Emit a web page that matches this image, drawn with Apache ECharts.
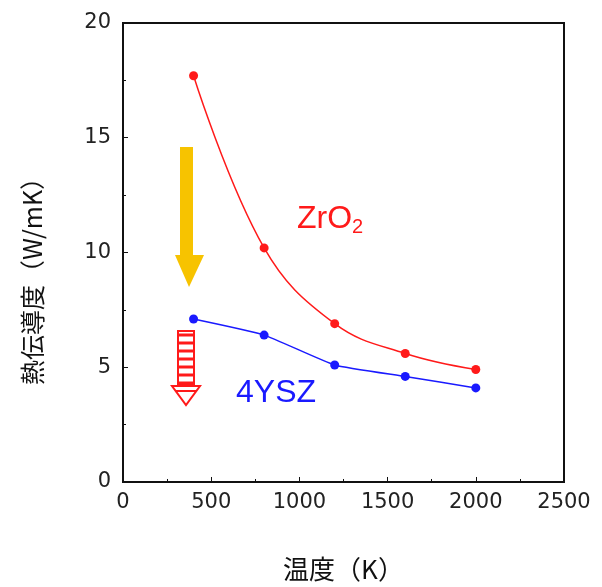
<!DOCTYPE html>
<html>
<head>
<meta charset="utf-8">
<script src="https://cdn.jsdelivr.net/npm/echarts@6/dist/echarts.min.js"></script>
<style>
  html, body { margin: 0; padding: 0; background: #fff; }
  #chart { width: 602px; height: 587px; }
</style>
</head>
<body>
<div id="chart"></div>
<script>
// temperature (K)
var temps = [400, 800, 1200, 1600, 2000];
// thermal conductivity (W/mK)
var zro2 = [17.7, 10.2, 6.9, 5.6, 4.9];
var ysz4 = [7.1, 6.4, 5.1, 4.6, 4.1];

var chart = echarts.init(document.getElementById('chart'));
var font = '"DejaVu Sans", sans-serif';
var lblFont = '"Liberation Sans", Arial, sans-serif';
var cjk = '"Noto Sans CJK JP", sans-serif';

var option = {
  animation: false,
  grid: {
    left: 123, right: 38, top: 23, bottom: 103,
    show: true, borderColor: '#111', borderWidth: 2
  },
  xAxis: {
    type: 'value', min: 0, max: 2500, interval: 500,
    name: '温度（K）', nameLocation: 'middle', nameGap: 74,
    nameTextStyle: { fontFamily: cjk, fontSize: 26, color: '#111' },
    axisLine: { lineStyle: { color: '#111', width: 2 } },
    axisTick: { inside: true, length: 5, lineStyle: { color: '#111' } },
    minorTick: { show: true, splitNumber: 2, length: 3, lineStyle: { color: '#111' } },
    splitLine: { show: false },
    axisLabel: { fontFamily: font, fontSize: 21, color: '#222', margin: 10,
      formatter: function (v) { return String(v); } }
  },
  yAxis: {
    type: 'value', min: 0, max: 20, interval: 5,
    axisLine: { lineStyle: { color: '#111', width: 2 } },
    axisTick: { inside: true, length: 5, lineStyle: { color: '#111' } },
    minorTick: { show: true, splitNumber: 2, length: 3, lineStyle: { color: '#111' } },
    splitLine: { show: false },
    axisLabel: { fontFamily: font, fontSize: 21, color: '#222', margin: 12 }
  },
  series: [
    {
      name: 'ZrO2', type: 'line', smooth: 0.4,
      data: temps.map(function (t, i) { return [t, zro2[i]]; }),
      symbol: 'circle', symbolSize: 9,
      itemStyle: { color: '#ff1a1a' },
      lineStyle: { color: '#ff1a1a', width: 1.5 }
    },
    {
      name: '4YSZ', type: 'line', smooth: 0.15,
      data: temps.map(function (t, i) { return [t, ysz4[i]]; }),
      symbol: 'circle', symbolSize: 9,
      itemStyle: { color: '#1a1aff' },
      lineStyle: { color: '#1a1aff', width: 1.5 }
    }
  ],
  graphic: [
    // y axis title
    { type: 'text', x: 32, y: 275, rotation: Math.PI / 2, style: {
        text: '熱伝導度（W/mK）', fill: '#111', font: '25px ' + cjk,
        align: 'center', verticalAlign: 'middle'
      } },
    // orange arrow
    { type: 'rect', shape: { x: 180, y: 147, width: 13, height: 110 }, style: { fill: '#f7c300' } },
    { type: 'polygon', shape: { points: [[175, 255], [204, 255], [189, 287]] }, style: { fill: '#f7c300' } },
    // red striped arrow
    { type: 'rect', shape: { x: 178, y: 331, width: 16, height: 54 }, style: { fill: '#fff', stroke: '#ff1a1a', lineWidth: 2 } },
    { type: 'group', children: [331, 339, 347, 355, 363, 371, 379].map(function (y) {
        return { type: 'line', shape: { x1: 178, y1: y + 4, x2: 194, y2: y + 4 }, style: { stroke: '#ff1a1a', lineWidth: 3 } };
      }) },
    { type: 'polygon', shape: { points: [[172, 386], [200, 386], [186, 405]] }, style: { fill: '#fff', stroke: '#ff1a1a', lineWidth: 2 } },
    { type: 'line', shape: { x1: 176, y1: 391, x2: 196, y2: 391 }, style: { stroke: '#ff1a1a', lineWidth: 2 } },
    // labels
    { type: 'text', left: 297, top: 203, style: {
        text: 'ZrO{s|2}', fill: '#ff1a1a', font: '32px ' + lblFont,
        rich: { s: { fontSize: 20, fill: '#ff1a1a', fontFamily: lblFont, padding: [16, 0, 0, 0] } }
      } },
    { type: 'text', left: 236, top: 377, style: { text: '4YSZ', fill: '#1a1aff', font: '32px ' + lblFont } }
  ]
};
chart.setOption(option);
</script>
</body>
</html>
